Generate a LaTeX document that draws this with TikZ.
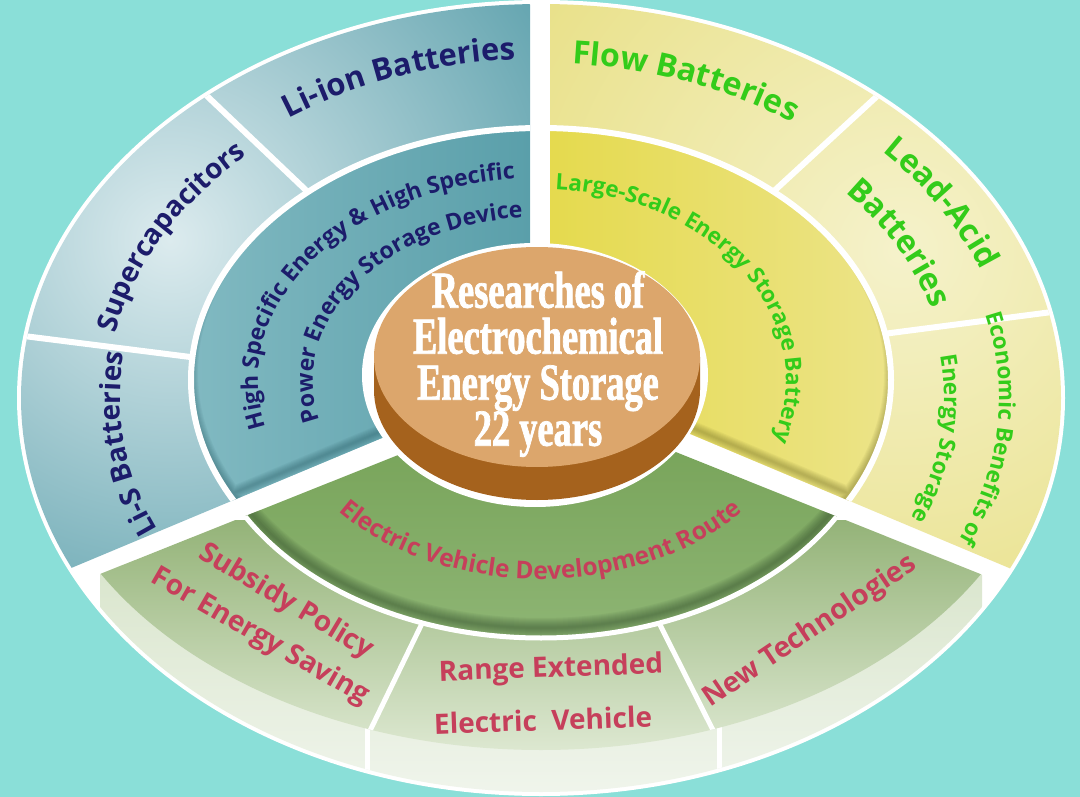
\documentclass[tikz,border=0pt]{standalone}
\usepackage{fontspec}
\newfontfamily\labelfont{Open Sans}
\newfontfamily\titlefont[FakeStretch=0.7, FakeBold=1.4]{Liberation Serif}
\usetikzlibrary{decorations.text}
\definecolor{bgcyan}{HTML}{8ADFD8}
\definecolor{navyink}{HTML}{1C1C6B}
\definecolor{greenink}{HTML}{33CC1A}
\definecolor{redink}{HTML}{C63F5B}
\definecolor{bluelight}{HTML}{DCEBEE}
\definecolor{bluedark}{HTML}{66A6B1}
\definecolor{blueinner}{HTML}{5A9FAA}
\definecolor{blueinnerlt}{HTML}{82BAC2}
\definecolor{blueshade}{HTML}{1D4F58}
\definecolor{yellowlight}{HTML}{F5F2CB}
\definecolor{yellowdark}{HTML}{E9E18A}
\definecolor{yellowinner}{HTML}{E5DA4E}
\definecolor{yellowinnerlt}{HTML}{ECE48A}
\definecolor{yellowshade}{HTML}{5E5A1A}
\definecolor{greentop}{HTML}{94B378}
\definecolor{greenlow}{HTML}{DDE8D1}
\definecolor{greensidetop}{HTML}{D9E5CC}
\definecolor{greensidelow}{HTML}{F0F5EC}
\definecolor{greeninner}{HTML}{78A45A}
\definecolor{greeninnerlt}{HTML}{8EB574}
\definecolor{greenshade}{HTML}{2F4A2A}
\definecolor{disctop}{HTML}{DCA66C}
\definecolor{discside}{HTML}{A5621D}

\newcommand\navybig{\labelfont\bfseries\fontsize{31}{31}\selectfont\color{navyink}}
\newcommand\navymid{\labelfont\bfseries\fontsize{28}{28}\selectfont\color{navyink}}
\newcommand\navysmall{\labelfont\bfseries\fontsize{23}{23}\selectfont\color{navyink}}
\newcommand\greenbig{\labelfont\bfseries\fontsize{32}{32}\selectfont\color{greenink}}
\newcommand\greensmall{\labelfont\bfseries\fontsize{22.5}{22.5}\selectfont\color{greenink}}
\newcommand\redsmall{\labelfont\bfseries\fontsize{24.5}{24.5}\selectfont\color{redink}}

\begin{document}
\begin{tikzpicture}[x=1pt, y=1pt,
  sep/.style={draw=white, line width=6pt},
  ringline/.style={draw=white, line width=6pt},
  ringtext/.style={decorate, decoration={text along path, text align=center, text={#1}}},
  flatlabel/.style={font=\labelfont\bfseries\fontsize{28}{28}\selectfont, text=redink, inner sep=0pt},
  title/.style={font=\titlefont\bfseries\fontsize{52}{46}\selectfont, text=white, align=center, inner sep=0pt}
]
\useasboundingbox (0,0) rectangle (1080,-797);
\fill[bgcyan] (0,0) rectangle (1080,-797);
\coordinate (O) at (541,-398);
\coordinate (M) at (541,-380);
\coordinate (H) at (535,-375);

% white base of the wheel
\fill[white] (O) ellipse[x radius=524pt, y radius=398pt];

% blue sector
\begin{scope}
  \clip (530,10) -- (-10,10) -- (-10,-602) -- (530,-376) -- cycle;
  \begin{scope}
    \clip (O) ellipse[x radius=520pt, y radius=394pt];
    \shade[inner color=bluelight, outer color=bluedark] (170,-240) circle[radius=430pt];
    \draw[sep] (332,-215) -- (186,-76);
    \draw[sep] (230,-362) -- (0,-333);
    \path[ringtext={|\navybig|Li-ion Batteries}] ([shift={(129:447pt and 339pt)}]O) arc[start angle=129, end angle=89, x radius=447pt, y radius=339pt];
    \path[ringtext={|\navymid|Supercapacitors}] ([shift={(173:434pt and 329pt)}]O) arc[start angle=173, end angle=129, x radius=434pt, y radius=329pt];
    \path[ringtext={|\navymid|Li-S Batteries}] ([shift={(209:421pt and 319pt)}]O) arc[start angle=209, end angle=167, x radius=421pt, y radius=319pt];
  \end{scope}
  \begin{scope}
    \clip (M) ellipse[x radius=350pt, y radius=252pt];
    \shade[left color=blueinnerlt, right color=blueinner] (180,-120) rectangle (530,-520);
    \foreach \w in {2,4,...,14}
      \draw[blueshade, opacity=0.06, line width=\w pt] ([yshift=7pt]M) ellipse[x radius=350pt, y radius=252pt] (-10,-595) -- (530,-369);
    \path[ringtext={|\navysmall|High Specific Energy {\&} High Specific}] ([shift={(207:283pt and 202pt)}]M) arc[start angle=207, end angle=85, x radius=283pt, y radius=202pt];
    \path[ringtext={|\navysmall|Power Energy Storage Device}] ([shift={(207:228pt and 163pt)}]M) arc[start angle=207, end angle=85, x radius=228pt, y radius=163pt];
  \end{scope}
  \draw[ringline] (M) ellipse[x radius=350pt, y radius=252pt];
\end{scope}

% yellow sector
\begin{scope}
  \clip (550,10) -- (1090,10) -- (1090,-602) -- (550,-375) -- cycle;
  \begin{scope}
    \clip (O) ellipse[x radius=520pt, y radius=394pt];
    \shade[inner color=yellowlight, outer color=yellowdark] (900,-250) circle[radius=430pt];
    \draw[sep] (748,-215) -- (899,-76);
    \draw[sep] (860,-337) -- (1075,-309);
    \path[ringtext={|\greenbig|Flow Batteries}] ([shift={(90:442pt and 335pt)}]O) arc[start angle=90, end angle=51, x radius=442pt, y radius=335pt];
    \path[ringtext={|\greenbig|Lead-Acid}] ([shift={(48:471pt and 357pt)}]O) arc[start angle=48, end angle=16, x radius=471pt, y radius=357pt];
    \path[ringtext={|\greenbig|Batteries}] ([shift={(45:408pt and 309pt)}]O) arc[start angle=45, end angle=13, x radius=408pt, y radius=309pt];
    \path[ringtext={|\greensmall|Economic Benefits of}] ([shift={(21:458pt and 347pt)}]O) arc[start angle=21, end angle=-31, x radius=458pt, y radius=347pt];
    \path[ringtext={|\greensmall|Energy Storage}] ([shift={(12:403pt and 305pt)}]O) arc[start angle=12, end angle=-27, x radius=403pt, y radius=305pt];
  \end{scope}
  \begin{scope}
    \clip (M) ellipse[x radius=350pt, y radius=252pt];
    \shade[left color=yellowinner, right color=yellowinnerlt] (550,-120) rectangle (900,-520);
    \foreach \w in {2,4,...,14}
      \draw[yellowshade, opacity=0.06, line width=\w pt] ([yshift=7pt]M) ellipse[x radius=350pt, y radius=252pt] (550,-368) -- (1090,-595);
    \path[ringtext={|\greensmall|Large-Scale Energy Storage Battery}] ([shift={(97:245pt and 191pt)}]M) arc[start angle=97, end angle=-31, x radius=245pt, y radius=191pt];
  \end{scope}
  \draw[ringline] (M) ellipse[x radius=350pt, y radius=252pt];
\end{scope}

% green sector
\begin{scope}
  \clip (541,-398) -- (-10,-618) -- (-10,-810) -- (1090,-810) -- (1090,-618) -- cycle;
  \begin{scope}
    \clip (100,-500) rectangle (982,-810);
    \clip (O) ellipse[x radius=520pt, y radius=394pt];
    \shade[top color=greensidetop, bottom color=greensidelow] (100,-560) rectangle (982,-797);
    \draw[white, line width=5pt] (367,-700) -- (367,-800);
    \draw[white, line width=5pt] (719,-700) -- (719,-800);
  \end{scope}
  \begin{scope}
    \clip (O) ellipse[x radius=508pt, y radius=352pt];
    \shade[top color=greentop, bottom color=greenlow] (90,-520) rectangle (990,-752);
    \draw[white, line width=5pt] (430,-607) -- (365,-741);
    \draw[white, line width=5pt] (650,-605) -- (719,-742);
  \end{scope}
  \begin{scope}
    \clip (O) ellipse[x radius=340pt, y radius=240pt];
    \shade[top color=greeninner, bottom color=greeninnerlt] (190,-440) rectangle (890,-640);
    \foreach \w in {2,4,...,20}
      \draw[greenshade, opacity=0.06, line width=\w pt] ([yshift=10pt]O) ellipse[x radius=340pt, y radius=240pt];
    \path[ringtext={|\redsmall|Electric Vehicle Development Route}] ([shift={(206:259pt and 181pt)}]O) arc[start angle=206, end angle=334, x radius=259pt, y radius=181pt];
  \end{scope}
  \draw[white, line width=5pt] (O) ellipse[x radius=340pt, y radius=240pt];
  \node[flatlabel, rotate=-31] (subsidy) at (286,-602) {Subsidy Policy};
  \node[flatlabel, rotate=-30] (saving) at (260,-637) {For Energy Saving};
  \node[flatlabel, rotate=2] (range) at (551,-670) {Range Extended};
  \node[flatlabel, rotate=2] (vehicle) at (543,-720) {Electric\ \ Vehicle};
  \node[flatlabel, rotate=34] (newtech) at (810,-632) {New Technologies};
\end{scope}

% centre disc
\fill[white] (H) ellipse[x radius=173pt, y radius=132pt];
\fill[discside] (374,-357) -- (374,-390) arc[start angle=180, end angle=360, x radius=163pt, y radius=110pt] -- (700,-357) -- cycle;
\fill[disctop] (537,-357) ellipse[x radius=163pt, y radius=110pt];
\node[title] (hub) at (538,-364) {Researches of\\Electrochemical\\Energy Storage\\22 years};
\end{tikzpicture}
\end{document}
